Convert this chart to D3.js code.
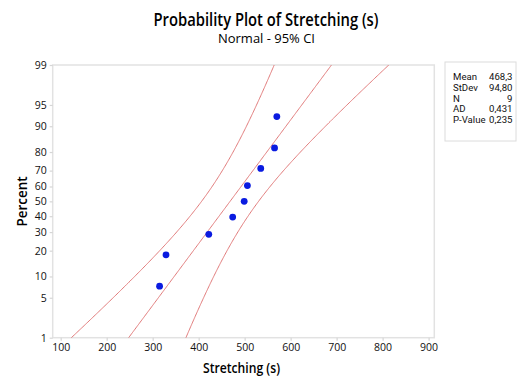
<!DOCTYPE html>
<html><head><meta charset="utf-8">
<script src="https://cdn.jsdelivr.net/npm/d3@7"></script>
<style>
body{margin:0;background:#fff;}
svg{display:block;font-family:"Open Sans","Noto Sans",sans-serif;}
</style></head>
<body><svg id="c" width="520" height="378"></svg>
<script>
// ---- data ----
const stretching = [315, 329, 422, 474, 499, 506, 535, 565, 570];
const percents = [7.4, 18.1, 28.7, 39.4, 50.0, 60.6, 71.3, 81.9, 92.6];
const xTicks = [100, 200, 300, 400, 500, 600, 700, 800, 900];
const yTicks = [1, 5, 10, 20, 30, 40, 50, 60, 70, 80, 90, 95, 99];
const statLabels = ["Mean", "StDev", "N", "AD", "P-Value"];
const statValues = ["468,3", "94,80", "9", "0,431", "0,235"];
const mean = 468.3, sd = 94.80, n = 9, confidence = 0.95;

// inverse normal CDF (Acklam)
function zq(p){
  const a=[-3.969683028665376e+01,2.209460984245205e+02,-2.759285104469687e+02,1.383577518672690e+02,-3.066479806614716e+01,2.506628277459239e+00];
  const b=[-5.447609879822406e+01,1.615858368580409e+02,-1.556989798598866e+02,6.680131188771972e+01,-1.328068155288572e+01];
  const c=[-7.784894002430293e-03,-3.223964580411365e-01,-2.400758277161838e+00,-2.549732539343734e+00,4.374664141464968e+00,2.938163982698783e+00];
  const d=[7.784695709041462e-03,3.224671290700398e-01,2.445134137142996e+00,3.754408661907416e+00];
  const pl=0.02425, ph=1-pl; let q,r;
  if(p<pl){q=Math.sqrt(-2*Math.log(p));return (((((c[0]*q+c[1])*q+c[2])*q+c[3])*q+c[4])*q+c[5])/((((d[0]*q+d[1])*q+d[2])*q+d[3])*q+1);}
  if(p<=ph){q=p-0.5;r=q*q;return (((((a[0]*r+a[1])*r+a[2])*r+a[3])*r+a[4])*r+a[5])*q/(((((b[0]*r+b[1])*r+b[2])*r+b[3])*r+b[4])*r+1);}
  q=Math.sqrt(-2*Math.log(1-p));return -(((((c[0]*q+c[1])*q+c[2])*q+c[3])*q+c[4])*q+c[5])/((((d[0]*q+d[1])*q+d[2])*q+d[3])*q+1);
}

const L=52.7, R=434.3, T=65, B=337.7;
const svg = d3.select("#c");

const x = d3.scaleLinear().domain([100, 900]).range([60.7, 428.6]);
const zLin = d3.scaleLinear().domain([zq(0.01), zq(0.99)]).range([B, T]);
function yScale(p){ return zLin(zq(p/100)); }
yScale.range = () => zLin.range();
yScale.domain = () => [1, 99];
yScale.copy = () => yScale;

// frame
svg.append("rect").attr("x",L).attr("y",T).attr("width",R-L).attr("height",B-T)
  .attr("fill","none").attr("stroke","#e2e2e2").attr("stroke-width",1.5);

// axes
const yAx = svg.append("g").attr("transform",`translate(${L},0)`)
  .call(d3.axisLeft(yScale).tickValues(yTicks).tickSize(3).tickPadding(3).tickFormat(d3.format("d")));
const xAx = svg.append("g").attr("transform",`translate(0,${B})`)
  .call(d3.axisBottom(x).tickValues(xTicks).tickSize(3).tickPadding(3));
[yAx,xAx].forEach(g=>{
  g.select(".domain").remove();
  g.selectAll(".tick line").attr("stroke","#d6d6d6").attr("stroke-width",1.2);
  g.selectAll("text").attr("font-size",10.5).attr("fill","#111").attr("font-weight",500)
    .attr("font-family","'Open Sans',sans-serif");
});

// clip
svg.append("clipPath").attr("id","clip").append("rect")
  .attr("x",L).attr("y",T).attr("width",R-L).attr("height",B-T);

// fitted line and CI bands
const zc = zq(1-(1-confidence)/2);
const zs = d3.range(-3.2, 3.2001, 0.02);
const fit = z => mean + z*sd;
const se = z => Math.sqrt(sd*sd/n + z*z*sd*sd/(2*(n-1)));
const line = d3.line().x(d=>x(d[0])).y(d=>zLin(d[1]));
const g = svg.append("g").attr("clip-path","url(#clip)");
const curves = [
  zs.map(z=>[fit(z), z]),
  zs.map(z=>[fit(z)-zc*se(z), z]),
  zs.map(z=>[fit(z)+zc*se(z), z])
];
g.selectAll("path.c").data(curves).join("path").attr("class","c")
  .attr("d",line).attr("fill","none").attr("stroke","#e07a7a").attr("stroke-width",1);

// points
g.selectAll("circle").data(stretching.map((v,i)=>[v,percents[i]])).join("circle")
  .attr("cx",d=>x(d[0])).attr("cy",d=>yScale(d[1])).attr("r",3.4).attr("fill","#0a1be0");

// titles
svg.append("text").attr("x",266).attr("y",26).attr("text-anchor","middle")
  .attr("font-size",17.5).attr("font-weight",600).attr("fill","#000").attr("textLength",225).attr("lengthAdjust","spacingAndGlyphs")
  .text("Probability Plot of Stretching (s)");
svg.append("text").attr("x",266.5).attr("y",43).attr("text-anchor","middle")
  .attr("font-size",12.5).attr("font-weight",500).attr("fill","#000").attr("textLength",97).attr("lengthAdjust","spacingAndGlyphs")
  .text("Normal - 95% CI");
svg.append("text").attr("x",241.5).attr("y",373).attr("text-anchor","middle")
  .attr("font-size",13.5).attr("font-weight",600).attr("fill","#000").attr("textLength",77).attr("lengthAdjust","spacingAndGlyphs")
  .text("Stretching (s)");
svg.append("text").attr("transform","translate(27,201.5) rotate(-90)").attr("text-anchor","middle")
  .attr("font-size",13.5).attr("font-weight",600).attr("fill","#000").attr("textLength",50).attr("lengthAdjust","spacingAndGlyphs")
  .text("Percent");

// stats box
const sb = svg.append("g").attr("font-family","Roboto,sans-serif");
sb.append("rect").attr("x",445).attr("y",62).attr("width",71).attr("height",79)
  .attr("fill","#fff").attr("stroke","#dcdcdc").attr("stroke-width",1);
sb.selectAll("text.l").data(statLabels).join("text").attr("class","l")
  .attr("x",453).attr("y",(d,i)=>80+i*10.8).attr("font-size",9.6).attr("fill","#111").text(d=>d);
sb.selectAll("text.v").data(statValues).join("text").attr("class","v")
  .attr("x",512.5).attr("y",(d,i)=>80+i*10.8).attr("text-anchor","end").attr("font-size",9.6).attr("fill","#111").text(d=>d);
</script></body></html>
